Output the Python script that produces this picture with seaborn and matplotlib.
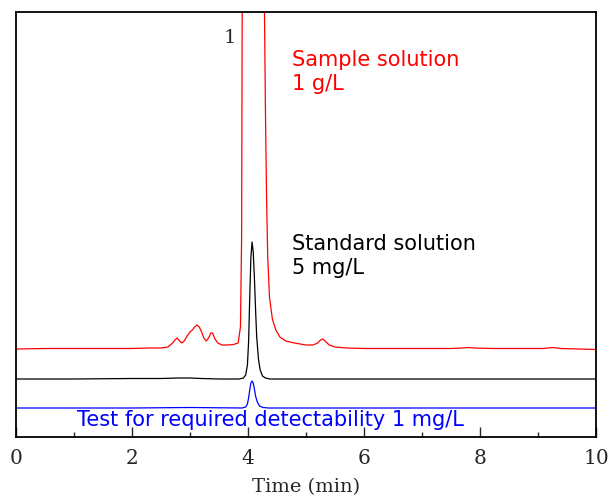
import numpy as np
import pandas as pd
import matplotlib
matplotlib.use("Agg")
import matplotlib.pyplot as plt
import seaborn as sns

# chromatogram traces (time in min, signal in arbitrary units)
sample_time = [0.0, 0.5, 1.0, 1.5, 2.0, 2.3, 2.5, 2.62, 2.7, 2.74, 2.78, 2.82, 2.86, 2.9, 2.95,
               3.0, 3.04, 3.08, 3.12, 3.16, 3.2, 3.24, 3.28, 3.32, 3.36, 3.39, 3.43, 3.48, 3.55,
               3.65, 3.75, 3.83, 3.87, 3.89, 3.9, 3.92, 4.0, 4.1, 4.2, 4.28, 4.3, 4.32, 4.34,
               4.37, 4.42, 4.48, 4.55, 4.65, 4.8, 5.0, 5.12, 5.2, 5.25, 5.29, 5.33, 5.4, 5.5,
               5.7, 6.0, 6.5, 7.0, 7.5, 7.7, 7.8, 7.9, 8.2, 8.7, 9.1, 9.25, 9.4, 9.7, 10.0]
sample_sig = [88, 88.5, 88.5, 88.5, 88.5, 89, 89, 90, 94, 97, 99, 96, 94, 96, 101,
              105, 107, 110, 112, 110, 105, 99, 96, 99, 104, 104, 98, 94, 92,
              92, 92.5, 94, 110, 200, 430, 900, 3000, 3000, 1500, 450, 330, 240, 180,
              140, 118, 107, 100, 96, 94, 92, 92, 94, 97, 98, 96, 92, 90,
              89, 88.5, 88.5, 88.5, 88.5, 89, 89.5, 89, 88.5, 88.5, 88.5, 89.5, 88.5, 88, 87.5]

standard_time = [0.0, 1.0, 2.0, 2.5, 2.8, 3.0, 3.2, 3.5, 3.85, 3.92, 3.96, 3.99, 4.01, 4.03,
                 4.05, 4.07, 4.09, 4.11, 4.13, 4.15, 4.18, 4.21, 4.25, 4.3, 4.38, 5.0, 7.0, 10.0]
standard_sig = [58, 58, 58.5, 58.5, 59, 59, 58.5, 58, 58, 59, 62, 72, 95, 140,
                180, 195, 185, 160, 128, 100, 78, 67, 61, 59, 58, 58, 58, 58]

test_time = [0.0, 1.0, 2.0, 3.0, 3.9, 3.96, 3.99, 4.01, 4.03, 4.05, 4.07, 4.09, 4.11,
             4.13, 4.16, 4.2, 4.26, 4.35, 5.0, 7.0, 10.0]
test_sig = [29, 29, 29, 29.5, 29, 30, 33, 39, 47, 54, 56, 54, 48,
            41, 35, 31, 29.5, 29, 29, 29, 29]

traces = [
    (sample_time, sample_sig, "red"),
    (standard_time, standard_sig, "black"),
    (test_time, test_sig, "blue"),
]

sns.set_style("white")
plt.rcParams["font.family"] = ["DejaVu Sans"]

fig = plt.figure(figsize=(6.09, 5.0), dpi=100)
ax = fig.add_axes([16 / 609, 1 - 437 / 500, 580 / 609, 425 / 500])

for t, s, c in traces:
    df = pd.DataFrame({"time": t, "signal": s})
    sns.lineplot(data=df, x="time", y="signal", color=c, linewidth=0.9, sort=False, ax=ax)

ax.set_xlim(0, 10)
ax.set_ylim(0, 425)
ax.set_yticks([])
ax.set_ylabel("")
ax.set_xticks([0, 2, 4, 6, 8, 10])
ax.set_xticks([1, 3, 5, 7, 9], minor=True)
ax.tick_params(axis="x", which="major", direction="in", length=7, width=1, bottom=True, pad=9)
ax.tick_params(axis="x", which="minor", direction="in", length=3.5, width=1, bottom=True)
for lab in ax.get_xticklabels():
    lab.set_fontfamily("DejaVu Serif")
    lab.set_fontsize(14.5)
ax.set_xlabel("Time (min)", fontfamily="DejaVu Serif", fontsize=14, labelpad=7)
for sp in ax.spines.values():
    sp.set_visible(True)
    sp.set_color("black")
    sp.set_linewidth(1.3)

ax.text(3.69, 399, "1", fontfamily="DejaVu Serif", fontsize=14, ha="center", va="center")
ax.text(4.76, 387, "Sample solution\n1 g/L", color="red", fontsize=15, va="top", linespacing=1.27)
ax.text(4.76, 203, "Standard solution\n5 mg/L", color="black", fontsize=15, va="top", linespacing=1.27)
ax.text(1.05, 17, "Test for required detectability 1 mg/L", color="blue", fontsize=15, va="center")

fig.savefig("out.png", dpi=100)
